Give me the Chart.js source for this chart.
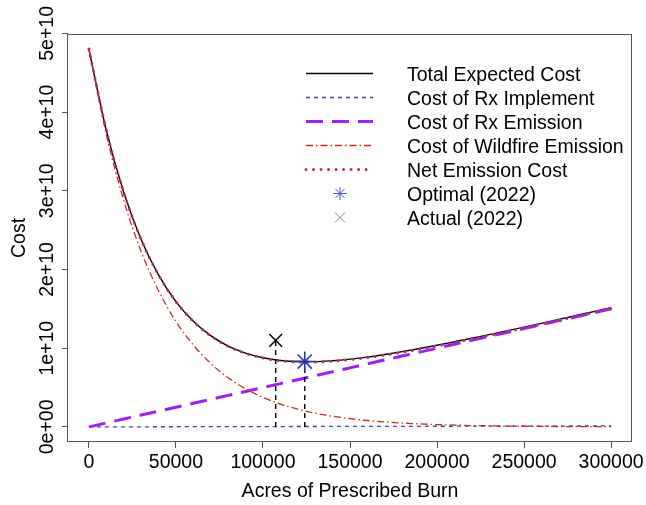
<!DOCTYPE html>
<html><head><meta charset="utf-8">
<script src="https://cdn.jsdelivr.net/npm/chart.js@4/dist/chart.umd.min.js"></script>
<style>html,body{margin:0;padding:0;background:#fff}</style>
</head><body>
<canvas id="c" width="646" height="505" style="display:block;width:646px;height:505px"></canvas>
<script>
// ---- data ----
const acres = [0,10000,20000,30000,40000,50000,60000,70000,80000,90000,100000,110000,120000,130000,140000,150000,160000,170000,180000,190000,200000,210000,220000,230000,240000,250000,260000,270000,280000,290000,300000];
const totalCost = [4.800e10,3.770e10,2.981e10,2.381e10,1.932e10,1.592e10,1.342e10,1.159e10,1.027e10,0.938e10,0.879e10,0.844e10,0.830e10,0.829e10,0.841e10,0.861e10,0.887e10,0.920e10,0.956e10,0.996e10,1.037e10,1.081e10,1.126e10,1.173e10,1.220e10,1.268e10,1.316e10,1.366e10,1.415e10,1.465e10,1.514e10];
const rxImplementCost = [0.0000e10,0.0004e10,0.0008e10,0.0012e10,0.0016e10,0.0020e10,0.0024e10,0.0028e10,0.0032e10,0.0036e10,0.0040e10,0.0044e10,0.0048e10,0.0052e10,0.0056e10,0.0060e10,0.0064e10,0.0068e10,0.0072e10,0.0076e10,0.0080e10,0.0084e10,0.0088e10,0.0092e10,0.0096e10,0.0100e10,0.0104e10,0.0108e10,0.0112e10,0.0116e10,0.0120e10];
const rxEmissionCost = [0.00e10,0.05e10,0.10e10,0.15e10,0.20e10,0.25e10,0.30e10,0.35e10,0.40e10,0.45e10,0.50e10,0.55e10,0.60e10,0.65e10,0.70e10,0.75e10,0.80e10,0.85e10,0.90e10,0.95e10,1.00e10,1.05e10,1.10e10,1.15e10,1.20e10,1.25e10,1.30e10,1.35e10,1.40e10,1.45e10,1.50e10];
const wildfireEmissionCost = [4.80e10,3.72e10,2.88e10,2.23e10,1.73e10,1.34e10,1.04e10,0.806e10,0.624e10,0.484e10,0.375e10,0.290e10,0.225e10,0.174e10,0.135e10,0.105e10,0.081e10,0.063e10,0.049e10,0.038e10,0.029e10,0.023e10,0.017e10,0.014e10,0.010e10,0.008e10,0.006e10,0.005e10,0.004e10,0.003e10,0.002e10];
const netEmissionCost = [4.800e10,3.770e10,2.980e10,2.380e10,1.930e10,1.590e10,1.340e10,1.156e10,1.024e10,0.934e10,0.875e10,0.840e10,0.825e10,0.824e10,0.835e10,0.855e10,0.881e10,0.913e10,0.949e10,0.988e10,1.029e10,1.073e10,1.117e10,1.164e10,1.210e10,1.258e10,1.306e10,1.355e10,1.404e10,1.453e10,1.502e10];
const optimalAcres = [124000];
const optimalCost = [0.83e10];
const actualAcres = [107300];
const actualCost = [1.10e10];
const xTickValues = [0,50000,100000,150000,200000,250000,300000];
const xTickLabels = ['0','50000','100000','150000','200000','250000','300000'];
const yTickValues = [0,1e10,2e10,3e10,4e10,5e10];
const yTickLabels = ['0e+00','1e+10','2e+10','3e+10','4e+10','5e+10'];
const seriesNames = ['Total Expected Cost','Cost of Rx Implement','Cost of Rx Emission','Cost of Wildfire Emission','Net Emission Cost','Optimal (2022)','Actual (2022)'];
const xTitle = 'Acres of Prescribed Burn';
const yTitle = 'Cost';

const pts = (xs, ys) => xs.map((x, i) => ({x: x, y: ys[i]}));
const FONT = '19.5px "Liberation Sans", Arial, sans-serif';

const lineStyles = [
  {color:'#000000', width:1.4, dash:[], cap:'butt'},
  {color:'#4040a8', width:1.3, dash:[4,4], cap:'butt'},
  {color:'#a020f0', width:3, dash:[17,9], cap:'butt'},
  {color:'#c8281e', width:1.3, dash:[7,3,1.5,3], cap:'butt'},
  {color:'#b03060', width:3, dash:[0.01,7.5], cap:'round'}
];
const lineData = [totalCost, rxImplementCost, rxEmissionCost, wildfireEmissionCost, netEmissionCost];
const lineOrder = [6,5,4,3,2];

const datasets = lineData.map((d, i) => ({
  label: seriesNames[i],
  data: pts(acres, d),
  borderColor: lineStyles[i].color,
  borderWidth: lineStyles[i].width,
  borderDash: lineStyles[i].dash,
  borderCapStyle: lineStyles[i].cap,
  cubicInterpolationMode: 'monotone',
  pointRadius: 0,
  fill: false,
  order: lineOrder[i]
}));
datasets.push({
  label: 'optDrop', data: [{x: optimalAcres[0], y: 0}, {x: optimalAcres[0], y: optimalCost[0]}],
  borderColor: '#000', borderWidth: 1.4, borderDash: [5,4], pointRadius: 0, order: 1
});
datasets.push({
  label: 'actDrop', data: [{x: actualAcres[0], y: 0}, {x: actualAcres[0], y: actualCost[0]}],
  borderColor: '#000', borderWidth: 1.4, borderDash: [5,4], pointRadius: 0, order: 1
});
datasets.push({
  label: seriesNames[5], data: pts(optimalAcres, optimalCost), showLine: false,
  pointStyle: 'star', pointRadius: 10, pointBorderColor: '#2536b0', pointBorderWidth: 1.6,
  pointBackgroundColor: 'rgba(0,0,0,0)', order: 0
});
datasets.push({
  label: seriesNames[6], data: pts(actualAcres, actualCost), showLine: false,
  pointStyle: 'crossRot', pointRadius: 9, pointBorderColor: '#000', pointBorderWidth: 1.5,
  pointBackgroundColor: 'rgba(0,0,0,0)', order: 0
});

const decor = {
  id: 'decor',
  afterDraw(chart) {
    const ctx = chart.ctx, a = chart.chartArea, xs = chart.scales.x, ys = chart.scales.y;
    ctx.save();
    // frame
    ctx.strokeStyle = '#555'; ctx.lineWidth = 1; ctx.setLineDash([]);
    ctx.strokeRect(Math.round(a.left) - 0.5, Math.round(a.top) + 0.5, Math.round(a.right - a.left), Math.round(a.bottom - a.top) - 1);
    // texts
    ctx.fillStyle = '#000'; ctx.font = FONT;
    ctx.textAlign = 'center'; ctx.textBaseline = 'alphabetic';
    xTickValues.forEach((v, i) => ctx.fillText(xTickLabels[i], xs.getPixelForValue(v), 468));
    ctx.fillText(xTitle, (a.left + a.right) / 2, 497);
    yTickValues.forEach((v, i) => {
      ctx.save(); ctx.translate(53, ys.getPixelForValue(v)); ctx.rotate(-Math.PI / 2);
      ctx.fillText(yTickLabels[i], 0, 0); ctx.restore();
    });
    ctx.save(); ctx.translate(25, (a.top + a.bottom) / 2); ctx.rotate(-Math.PI / 2);
    ctx.fillText(yTitle, 0, 0); ctx.restore();
    // legend
    const rowY = [73.5, 97.5, 121.5, 145.5, 169.5, 193.5, 217.5];
    ctx.textAlign = 'left';
    for (let i = 0; i < 5; i++) {
      const s = lineStyles[i];
      ctx.beginPath(); ctx.strokeStyle = s.color; ctx.lineWidth = Math.max(s.width, 1.5);
      ctx.setLineDash(s.dash); ctx.lineCap = s.cap;
      ctx.moveTo(306, rowY[i]); ctx.lineTo(373, rowY[i]); ctx.stroke();
      ctx.fillText(seriesNames[i], 407, rowY[i] + 7.3);
    }
    ctx.setLineDash([]); ctx.lineCap = 'butt';
    ctx.strokeStyle = '#4a55c8'; ctx.lineWidth = 1;
    ctx.beginPath();
    const r = 6.5;
    for (let k = 0; k < 4; k++) {
      const ang = k * Math.PI / 4;
      ctx.moveTo(340 - r * Math.cos(ang), rowY[5] - r * Math.sin(ang));
      ctx.lineTo(340 + r * Math.cos(ang), rowY[5] + r * Math.sin(ang));
    }
    ctx.stroke();
    ctx.strokeStyle = '#8a8a8a'; ctx.beginPath();
    ctx.moveTo(335, rowY[6] - 5); ctx.lineTo(345, rowY[6] + 5);
    ctx.moveTo(345, rowY[6] - 5); ctx.lineTo(335, rowY[6] + 5);
    ctx.stroke();
    ctx.fillText(seriesNames[5], 407, rowY[5] + 7.3);
    ctx.fillText(seriesNames[6], 407, rowY[6] + 7.3);
    ctx.restore();
  }
};

new Chart(document.getElementById('c'), {
  type: 'line',
  data: {datasets: datasets},
  options: {
    responsive: false, animation: false, devicePixelRatio: 1,
    layout: {padding: {top: 34, right: 14, left: 0, bottom: 0}},
    plugins: {legend: {display: false}, tooltip: {enabled: false}},
    scales: {
      x: {
        type: 'linear', min: -12000, max: 312000,
        afterBuildTicks: s => { s.ticks = xTickValues.map(v => ({value: v})); },
        afterFit: s => { s.height = 63; },
        ticks: {display: false},
        grid: {drawOnChartArea: false, drawTicks: true, tickLength: 6, color: '#555', lineWidth: 1},
        border: {display: false}
      },
      y: {
        type: 'linear', min: -0.192e10, max: 4.992e10,
        afterBuildTicks: s => { s.ticks = yTickValues.map(v => ({value: v})); },
        afterFit: s => { s.width = 68; },
        ticks: {display: false},
        grid: {drawOnChartArea: false, drawTicks: true, tickLength: 6, color: '#555', lineWidth: 1},
        border: {display: false}
      }
    }
  },
  plugins: [decor]
});
</script>
</body></html>
